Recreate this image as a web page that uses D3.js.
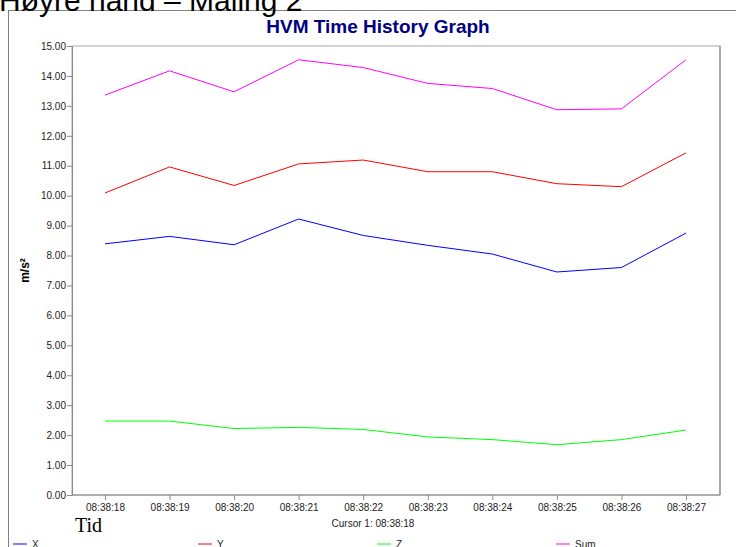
<!DOCTYPE html>
<html>
<head>
<meta charset="utf-8">
<script src="https://cdn.jsdelivr.net/npm/d3@7"></script>
<style>
  body { margin: 0; background: #fff; }
  svg { display: block; font-family: Arial, "Liberation Sans", sans-serif; }
</style>
</head>
<body>
<div id="container"></div>
<script>
/* CONSTANTS AND GLOBALS */
const width = 736,
      height = 547,
      margin = {top: 46, right: 16, bottom: 52, left: 72};

// DATA
const times = ["08:38:18", "08:38:19", "08:38:20", "08:38:21", "08:38:22",
               "08:38:23", "08:38:24", "08:38:25", "08:38:26", "08:38:27"];
const xValues   = [8.39, 8.64, 8.36, 9.22, 8.67, 8.34, 8.05, 7.45, 7.60, 8.75];
const yValues   = [10.09, 10.96, 10.34, 11.06, 11.19, 10.80, 10.80, 10.40, 10.30, 11.43];
const zValues   = [2.47, 2.47, 2.22, 2.26, 2.19, 1.94, 1.85, 1.68, 1.85, 2.17];
const sumValues = [13.36, 14.17, 13.47, 14.54, 14.28, 13.75, 13.58, 12.87, 12.90, 14.54];
const yTicks = d3.range(0, 15.01, 1);

const series = [
  {name: "X", values: xValues, color: "#0000ff", lx: 13},
  {name: "Y", values: yValues, color: "#ff0000", lx: 198},
  {name: "Z", values: zValues, color: "#00ff00", lx: 377},
  {name: "Sum", values: sumValues, color: "#ff00ff", lx: 556}
];

// SCALES
const xScale = d3.scalePoint()
  .domain(times)
  .range([105, 686]);

const yScale = d3.scaleLinear()
  .domain([0, 15])
  .range([height - margin.bottom, margin.top]);

// CREATE SVG ELEMENT
const svg = d3.select("#container")
  .append("svg")
  .attr("width", width)
  .attr("height", height);

// outer frame + page heading (cut off at top)
svg.append("rect")
  .attr("x", 8.5).attr("y", 10.5)
  .attr("width", 740).attr("height", 560)
  .attr("fill", "none").attr("stroke", "#808080");

svg.append("text")
  .attr("x", -1).attr("y", 11)
  .attr("font-size", 30)
  .attr("fill", "#000")
  .text("Høyre hånd – Måling 2");

// chart title
svg.append("text")
  .attr("x", 378).attr("y", 33)
  .attr("text-anchor", "middle")
  .attr("font-size", 19)
  .attr("font-weight", "bold")
  .attr("fill", "#000080")
  .text("HVM Time History Graph");

// plot area border
svg.append("rect")
  .attr("x", margin.left).attr("y", margin.top)
  .attr("width", 720 - margin.left).attr("height", yScale(0) - margin.top)
  .attr("fill", "none").attr("stroke", "#a8a8a8");
svg.append("line")
  .attr("x1", 720).attr("x2", 720)
  .attr("y1", margin.top).attr("y2", yScale(0))
  .attr("stroke", "#a8a8a8").attr("stroke-width", 2);

// BUILD AND CALL AXES
const xAxis = d3.axisBottom(xScale).tickSize(5).tickSizeOuter(0);
const xg = svg.append("g")
  .attr("transform", `translate(0, ${yScale(0)})`)
  .call(xAxis);
xg.select(".domain").attr("d", `M${margin.left},0H720`);

const yAxis = d3.axisLeft(yScale)
  .tickValues(yTicks)
  .tickFormat(d3.format(".2f"))
  .tickSize(5).tickSizeOuter(0);
const yg = svg.append("g")
  .attr("transform", `translate(${margin.left}, 0)`)
  .call(yAxis);

svg.selectAll(".domain, .tick line").attr("stroke", "#8a8a8a");
svg.selectAll(".tick text")
  .attr("font-size", 10)
  .attr("font-family", "Arial, 'Liberation Sans', sans-serif")
  .attr("fill", "#222");
yg.selectAll(".tick text").attr("x", -6);
xg.selectAll(".tick text").attr("y", 9);

// axis labels
svg.append("text")
  .attr("transform", `translate(29, ${(margin.top + yScale(0)) / 2}) rotate(-90)`)
  .attr("text-anchor", "middle")
  .attr("font-size", 12)
  .attr("font-weight", "bold")
  .text("m/s²");

svg.append("text")
  .attr("x", 75).attr("y", 532)
  .attr("font-family", "'Liberation Serif', 'DejaVu Serif', serif")
  .attr("font-size", 20)
  .text("Tid");

svg.append("text")
  .attr("x", 373).attr("y", 527)
  .attr("text-anchor", "middle")
  .attr("font-size", 10)
  .attr("fill", "#222")
  .text("Cursor 1: " + times[0]);

// LINE GENERATOR FUNCTION
const lineGen = d3.line()
  .x((d, i) => xScale(times[i]))
  .y(d => yScale(d));

// DRAW LINES
svg.selectAll("path.line")
  .data(series)
  .join("path")
  .attr("class", "line")
  .attr("fill", "none")
  .attr("stroke", d => d.color)
  .attr("stroke-width", 1)
  .attr("d", d => lineGen(d.values));

// LEGEND
const legend = svg.selectAll("g.legend")
  .data(series)
  .join("g")
  .attr("class", "legend")
  .attr("transform", d => `translate(${d.lx}, 544)`);
legend.append("line")
  .attr("x1", 0).attr("x2", 14)
  .attr("stroke", d => d.color);
legend.append("text")
  .attr("x", 19).attr("y", 4)
  .attr("font-size", 10)
  .attr("fill", "#222")
  .text(d => d.name);
</script>
</body>
</html>
